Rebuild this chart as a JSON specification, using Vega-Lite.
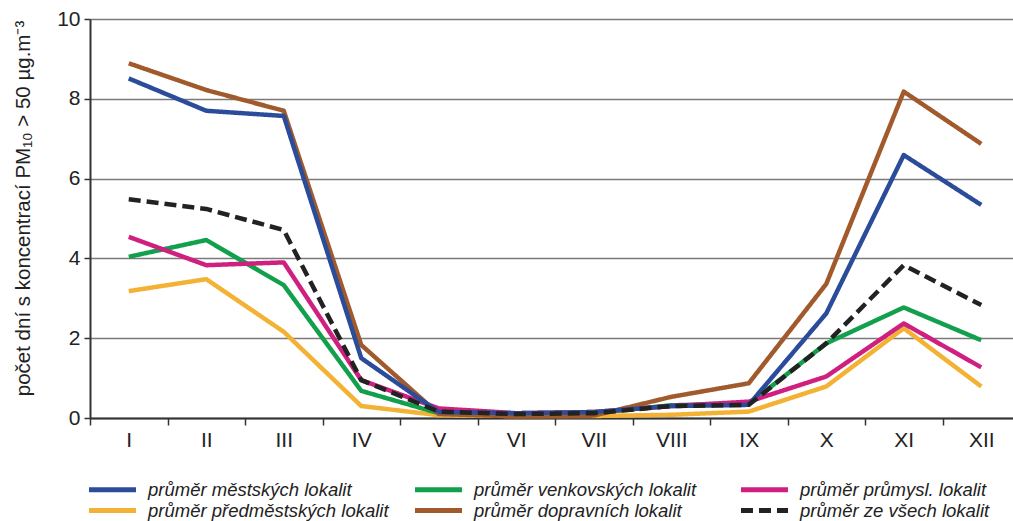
{
  "$schema": "https://vega.github.io/schema/vega-lite/v6.json",
  "autosize": "none",
  "padding": {"left": 90, "top": 19, "right": 0, "bottom": 103},
  "width": 923,
  "height": 399,
  "background": "white",
  "data": {
    "values": [
      {"m": "I", "s": "průměr předměstských lokalit", "v": 3.18},
      {"m": "II", "s": "průměr předměstských lokalit", "v": 3.48},
      {"m": "III", "s": "průměr předměstských lokalit", "v": 2.16},
      {"m": "IV", "s": "průměr předměstských lokalit", "v": 0.3},
      {"m": "V", "s": "průměr předměstských lokalit", "v": 0.07},
      {"m": "VI", "s": "průměr předměstských lokalit", "v": 0.05},
      {"m": "VII", "s": "průměr předměstských lokalit", "v": 0.05},
      {"m": "VIII", "s": "průměr předměstských lokalit", "v": 0.08},
      {"m": "IX", "s": "průměr předměstských lokalit", "v": 0.16},
      {"m": "X", "s": "průměr předměstských lokalit", "v": 0.79},
      {"m": "XI", "s": "průměr předměstských lokalit", "v": 2.25},
      {"m": "XII", "s": "průměr předměstských lokalit", "v": 0.79},
      {"m": "I", "s": "průměr venkovských lokalit", "v": 4.04},
      {"m": "II", "s": "průměr venkovských lokalit", "v": 4.46},
      {"m": "III", "s": "průměr venkovských lokalit", "v": 3.33},
      {"m": "IV", "s": "průměr venkovských lokalit", "v": 0.68},
      {"m": "V", "s": "průměr venkovských lokalit", "v": 0.12},
      {"m": "VI", "s": "průměr venkovských lokalit", "v": 0.1},
      {"m": "VII", "s": "průměr venkovských lokalit", "v": 0.12},
      {"m": "VIII", "s": "průměr venkovských lokalit", "v": 0.32},
      {"m": "IX", "s": "průměr venkovských lokalit", "v": 0.35},
      {"m": "X", "s": "průměr venkovských lokalit", "v": 1.87},
      {"m": "XI", "s": "průměr venkovských lokalit", "v": 2.77},
      {"m": "XII", "s": "průměr venkovských lokalit", "v": 1.95},
      {"m": "I", "s": "průměr průmysl. lokalit", "v": 4.54},
      {"m": "II", "s": "průměr průmysl. lokalit", "v": 3.83},
      {"m": "III", "s": "průměr průmysl. lokalit", "v": 3.9},
      {"m": "IV", "s": "průměr průmysl. lokalit", "v": 0.95},
      {"m": "V", "s": "průměr průmysl. lokalit", "v": 0.24},
      {"m": "VI", "s": "průměr průmysl. lokalit", "v": 0.12},
      {"m": "VII", "s": "průměr průmysl. lokalit", "v": 0.15},
      {"m": "VIII", "s": "průměr průmysl. lokalit", "v": 0.3},
      {"m": "IX", "s": "průměr průmysl. lokalit", "v": 0.41},
      {"m": "X", "s": "průměr průmysl. lokalit", "v": 1.04},
      {"m": "XI", "s": "průměr průmysl. lokalit", "v": 2.37},
      {"m": "XII", "s": "průměr průmysl. lokalit", "v": 1.27},
      {"m": "I", "s": "průměr dopravních lokalit", "v": 8.89},
      {"m": "II", "s": "průměr dopravních lokalit", "v": 8.22},
      {"m": "III", "s": "průměr dopravních lokalit", "v": 7.7},
      {"m": "IV", "s": "průměr dopravních lokalit", "v": 1.83},
      {"m": "V", "s": "průměr dopravních lokalit", "v": 0.1},
      {"m": "VI", "s": "průměr dopravních lokalit", "v": 0.04},
      {"m": "VII", "s": "průměr dopravních lokalit", "v": 0.06},
      {"m": "VIII", "s": "průměr dopravních lokalit", "v": 0.53},
      {"m": "IX", "s": "průměr dopravních lokalit", "v": 0.87},
      {"m": "X", "s": "průměr dopravních lokalit", "v": 3.36},
      {"m": "XI", "s": "průměr dopravních lokalit", "v": 8.18},
      {"m": "XII", "s": "průměr dopravních lokalit", "v": 6.87},
      {"m": "I", "s": "průměr městských lokalit", "v": 8.51},
      {"m": "II", "s": "průměr městských lokalit", "v": 7.7},
      {"m": "III", "s": "průměr městských lokalit", "v": 7.57},
      {"m": "IV", "s": "průměr městských lokalit", "v": 1.5},
      {"m": "V", "s": "průměr městských lokalit", "v": 0.15},
      {"m": "VI", "s": "průměr městských lokalit", "v": 0.12},
      {"m": "VII", "s": "průměr městských lokalit", "v": 0.15},
      {"m": "VIII", "s": "průměr městských lokalit", "v": 0.3},
      {"m": "IX", "s": "průměr městských lokalit", "v": 0.33},
      {"m": "X", "s": "průměr městských lokalit", "v": 2.62},
      {"m": "XI", "s": "průměr městských lokalit", "v": 6.59},
      {"m": "XII", "s": "průměr městských lokalit", "v": 5.34},
      {"m": "I", "s": "průměr ze všech lokalit", "v": 5.48},
      {"m": "II", "s": "průměr ze všech lokalit", "v": 5.24},
      {"m": "III", "s": "průměr ze všech lokalit", "v": 4.71},
      {"m": "IV", "s": "průměr ze všech lokalit", "v": 0.95},
      {"m": "V", "s": "průměr ze všech lokalit", "v": 0.16},
      {"m": "VI", "s": "průměr ze všech lokalit", "v": 0.1},
      {"m": "VII", "s": "průměr ze všech lokalit", "v": 0.12},
      {"m": "VIII", "s": "průměr ze všech lokalit", "v": 0.3},
      {"m": "IX", "s": "průměr ze všech lokalit", "v": 0.33},
      {"m": "X", "s": "průměr ze všech lokalit", "v": 1.87},
      {"m": "XI", "s": "průměr ze všech lokalit", "v": 3.83},
      {"m": "XII", "s": "průměr ze všech lokalit", "v": 2.83}
    ]
  },
  "mark": {"type": "line", "strokeWidth": 4.5, "strokeJoin": "round"},
  "encoding": {
    "x": {
      "field": "m",
      "type": "ordinal",
      "sort": ["I", "II", "III", "IV", "V", "VI", "VII", "VIII", "IX", "X", "XI", "XII"],
      "bandPosition": 0.5,
      "scale": {"type": "band", "paddingInner": 0, "paddingOuter": 0, "range": [0, 930]},
      "axis": {
        "title": null,
        "labelAngle": 0,
        "tickBand": "extent",
        "tickSize": 7,
        "tickWidth": 1.5,
        "tickColor": "#333333",
        "domainColor": "#333333",
        "domainWidth": 2,
        "labelFont": "Liberation Sans",
        "labelFontSize": 21,
        "labelColor": "#222222",
        "labelPadding": 4,
        "grid": false
      }
    },
    "y": {
      "field": "v",
      "type": "quantitative",
      "scale": {"domain": [0, 10], "nice": false},
      "axis": {
        "title": "počet dní s koncentrací PM₁₀ > 50 µg.m⁻³",
        "values": [0, 2, 4, 6, 8, 10],
        "grid": true,
        "gridColor": "#7a7a7a",
        "gridWidth": 1.5,
        "domainColor": "#333333",
        "domainWidth": 2,
        "tickColor": "#333333",
        "tickWidth": 1.5,
        "tickSize": 6,
        "labelFont": "Liberation Sans",
        "labelFontSize": 21,
        "labelColor": "#222222",
        "labelPadding": 4,
        "titleFont": "Liberation Sans",
        "titleFontSize": 20.5,
        "titleFontWeight": "normal",
        "titleColor": "#222222",
        "titlePadding": 23,
        "titleY": 189
      }
    },
    "color": {
      "field": "s",
      "type": "nominal",
      "scale": {
        "domain": ["průměr městských lokalit", "průměr venkovských lokalit", "průměr průmysl. lokalit", "průměr předměstských lokalit", "průměr dopravních lokalit", "průměr ze všech lokalit"],
        "range": ["#2b4c9b", "#12a04c", "#cf1f7f", "#f3b234", "#a15a2b", "#222222"]
      },
      "legend": {
        "title": null,
        "orient": "none",
        "direction": "horizontal",
        "legendX": 12,
        "legendY": 460,
        "columns": 3,
        "gridAlign": "all",
        "columnPadding": 15,
        "rowPadding": 0,
        "symbolType": "M-2.94,0H2.94",
        "symbolSize": 256,
        "symbolStrokeWidth": 5,
        "symbolFillColor": "transparent",
        "labelFont": "Liberation Sans",
        "labelFontStyle": "italic",
        "labelFontSize": 18.5,
        "labelColor": "#222222",
        "labelOffset": 25,
        "labelLimit": 400
      }
    },
    "strokeDash": {
      "field": "s",
      "type": "nominal",
      "scale": {
        "domain": ["průměr městských lokalit", "průměr venkovských lokalit", "průměr průmysl. lokalit", "průměr předměstských lokalit", "průměr dopravních lokalit", "průměr ze všech lokalit"],
        "range": [[1, 0], [1, 0], [1, 0], [1, 0], [1, 0], [12, 6]]
      },
      "legend": null
    }
  },
  "config": {"view": {"stroke": null}}
}
